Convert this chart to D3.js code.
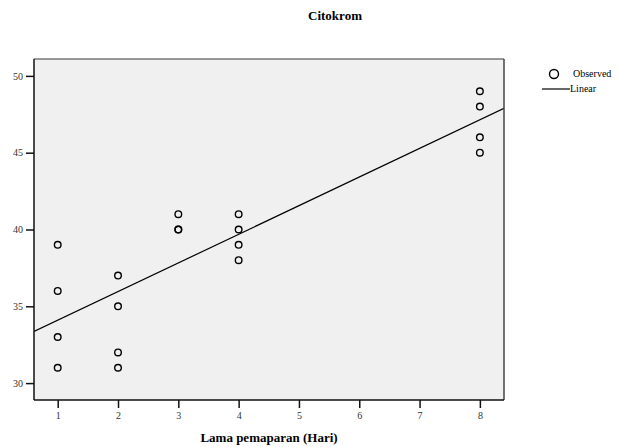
<!DOCTYPE html>
<html>
<head>
<meta charset="utf-8">
<script src="https://cdn.jsdelivr.net/npm/d3@7"></script>
<style>
body { margin: 0; background: #fff; }
svg text { font-family: "Liberation Serif", "Times New Roman", serif; }
</style>
</head>
<body>
<div class="content"></div>
<script>
var days = [1, 1, 1, 1, 2, 2, 2, 2, 3, 3, 3, 4, 4, 4, 4, 8, 8, 8, 8];
var citokrom = [39, 36, 33, 31, 37, 35, 32, 31, 41, 40, 40, 41, 40, 39, 38, 49, 48, 46, 45];
var xTicks = [1, 2, 3, 4, 5, 6, 7, 8];
var yTicks = [30, 35, 40, 45, 50];

var svg = d3.select('.content').append('svg')
    .attr('width', 619)
    .attr('height', 447);

var plotLeft = 34, plotTop = 59, plotRight = 504, plotBottom = 400;

var x = d3.scaleLinear().domain([0.607, 8.4]).range([plotLeft, plotRight]);
var y = d3.scaleLinear().domain([28.9, 51.1]).range([plotBottom, plotTop]);

// plot background
svg.append('rect')
    .attr('x', plotLeft).attr('y', plotTop)
    .attr('width', plotRight - plotLeft).attr('height', plotBottom - plotTop)
    .attr('fill', '#f0f0f0');

// least squares fit
var n = days.length;
var mx = d3.mean(days), my = d3.mean(citokrom);
var sxy = 0, sxx = 0;
for (var i = 0; i < n; i++) {
    sxy += (days[i] - mx) * (citokrom[i] - my);
    sxx += (days[i] - mx) * (days[i] - mx);
}
var slope = sxy / sxx;
var intercept = my - slope * mx;

svg.append('clipPath').attr('id', 'plotclip')
    .append('rect')
    .attr('x', plotLeft).attr('y', plotTop)
    .attr('width', plotRight - plotLeft).attr('height', plotBottom - plotTop);

var x0 = x.domain()[0], x1 = x.domain()[1];
svg.append('line')
    .attr('clip-path', 'url(#plotclip)')
    .attr('x1', x(x0)).attr('y1', y(intercept + slope * x0))
    .attr('x2', x(x1)).attr('y2', y(intercept + slope * x1))
    .attr('stroke', '#000')
    .attr('stroke-width', 1.2);

for (var i = 0; i < n; i++) {
    svg.append('circle')
        .attr('cx', x(days[i]))
        .attr('cy', y(citokrom[i]))
        .attr('r', 3.3)
        .attr('fill', 'none')
        .attr('stroke', '#000')
        .attr('stroke-width', 1.4);
}

// frame
svg.append('line').attr('x1', plotLeft).attr('y1', plotTop).attr('x2', plotRight).attr('y2', plotTop)
    .attr('stroke', '#777').attr('stroke-width', 1.5);
svg.append('line').attr('x1', plotRight).attr('y1', plotTop).attr('x2', plotRight).attr('y2', plotBottom)
    .attr('stroke', '#444').attr('stroke-width', 1.5);

var xAxis = svg.append('g')
    .attr('transform', 'translate(0,' + plotBottom + ')')
    .call(d3.axisBottom(x).tickValues(xTicks).tickSize(8).tickPadding(4).tickFormat(d3.format('d')));
var yAxis = svg.append('g')
    .attr('transform', 'translate(' + plotLeft + ',0)')
    .call(d3.axisLeft(y).tickValues(yTicks).tickSize(8).tickPadding(3).tickFormat(d3.format('d')));

[xAxis, yAxis].forEach(function (g) {
    g.select('.domain').attr('stroke', '#111').attr('stroke-width', 1.5);
    g.selectAll('.tick line').attr('stroke', '#111').attr('stroke-width', 1.5);
    g.selectAll('.tick text')
        .attr('fill', '#333')
        .style('font-family', '"Liberation Serif", serif')
        .style('font-size', '10px');
});
xAxis.select('.domain').attr('d', 'M' + plotLeft + ',0H' + plotRight);
yAxis.select('.domain').attr('d', 'M0,' + plotTop + 'V' + plotBottom);

// title and axis label
svg.append('text')
    .attr('x', 335).attr('y', 20)
    .attr('text-anchor', 'middle')
    .attr('font-weight', 'bold')
    .attr('font-size', '13px')
    .text('Citokrom');

svg.append('text')
    .attr('x', 269).attr('y', 442)
    .attr('text-anchor', 'middle')
    .attr('font-weight', 'bold')
    .attr('font-size', '13px')
    .text('Lama pemaparan (Hari)');

// legend
svg.append('circle')
    .attr('cx', 554).attr('cy', 74).attr('r', 4.5)
    .attr('fill', 'none').attr('stroke', '#000').attr('stroke-width', 1.4);
svg.append('text')
    .attr('x', 573).attr('y', 77)
    .attr('font-size', '10px')
    .text('Observed');
svg.append('line')
    .attr('x1', 542).attr('y1', 89).attr('x2', 570).attr('y2', 89)
    .attr('stroke', '#000').attr('stroke-width', 1.2);
svg.append('text')
    .attr('x', 570).attr('y', 92)
    .attr('font-size', '10px')
    .text('Linear');
</script>
</body>
</html>
